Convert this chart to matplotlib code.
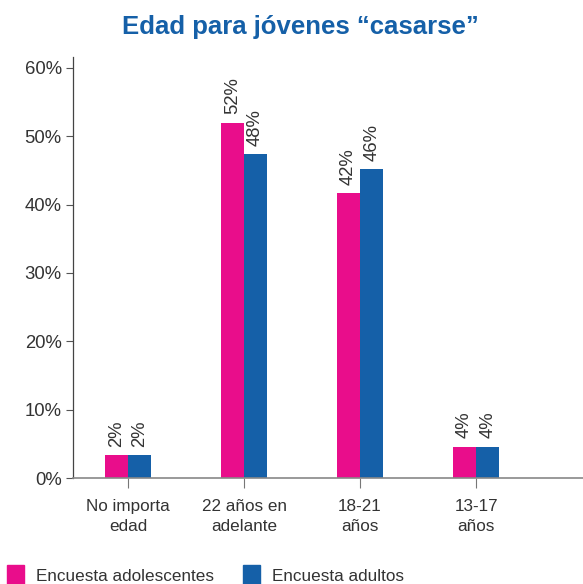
import matplotlib
matplotlib.use("Agg")
import matplotlib.pyplot as plt
import numpy as np
from matplotlib.patches import Rectangle

categories = ["No importa\nedad", "22 años en\nadelante", "18-21\naños", "13-17\naños"]
teens = [3.4, 52.0, 41.7, 4.6]
adults = [3.4, 47.4, 45.2, 4.6]
teen_labels = ["2%", "52%", "42%", "4%"]
adult_labels = ["2%", "48%", "46%", "4%"]
yticks = [0, 10, 20, 30, 40, 50, 60]
ytick_labels = ["0%", "10%", "20%", "30%", "40%", "50%", "60%"]
series_names = ["Encuesta adolescentes", "Encuesta adultos"]

pink = "#E90D8B"
blue = "#1560A8"
txt = "#333333"
plt.rcParams['font.family'] = ['Liberation Sans', 'DejaVu Sans']

W, H = 583, 584
fig = plt.figure(figsize=(W/100, H/100), dpi=100)
ax = fig.add_axes([0.125, 0.1815, 0.875, 0.721])

x = np.arange(len(categories))
w = 0.2
ax.bar(x - w/2, teens, w, color=pink)
ax.bar(x + w/2, adults, w, color=blue)

for i in range(len(categories)):
    ax.text(x[i] - w/2, teens[i] + 1.2, teen_labels[i], rotation=90, ha='center', va='bottom',
            fontsize=13.3, color=txt)
    ax.text(x[i] + w/2, adults[i] + 1.2, adult_labels[i], rotation=90, ha='center', va='bottom',
            fontsize=13.3, color=txt)

ax.set_xlim(-0.474, 3.92)
ax.set_ylim(0, 61.6)
ax.set_yticks(yticks)
ax.set_yticklabels(ytick_labels, fontsize=13.3, color=txt)
ax.set_xticks(x)
ax.set_xticklabels(categories, fontsize=12.3, color=txt, linespacing=1.4)
ax.tick_params(axis='y', length=5, width=0.8, color='#555555', pad=3)
ax.tick_params(axis='x', length=7, width=0.8, color='#777777', pad=8)
for s in ['top', 'right']:
    ax.spines[s].set_visible(False)
ax.spines['left'].set_color('#444444')
ax.spines['left'].set_linewidth(0.9)
ax.spines['bottom'].set_color('#888888')
ax.spines['bottom'].set_linewidth(1.2)

fig.text(0.516, 1 - 27/H, "Edad para jóvenes “casarse”", ha='center', va='center',
         fontsize=18.5, fontweight='bold', color=blue)

# legend drawn in figure pixel coordinates
legend_x = [7, 243]
for name, col, lx in zip(series_names, [pink, blue], legend_x):
    fig.patches.append(Rectangle((lx/W, 0), 17/W, 19/H, transform=fig.transFigure,
                                 color=col, figure=fig))
    fig.text((lx + 29)/W, 3/H, name, ha='left', va='baseline', fontsize=12.3, color=txt)

fig.savefig("out.png", dpi=100)
